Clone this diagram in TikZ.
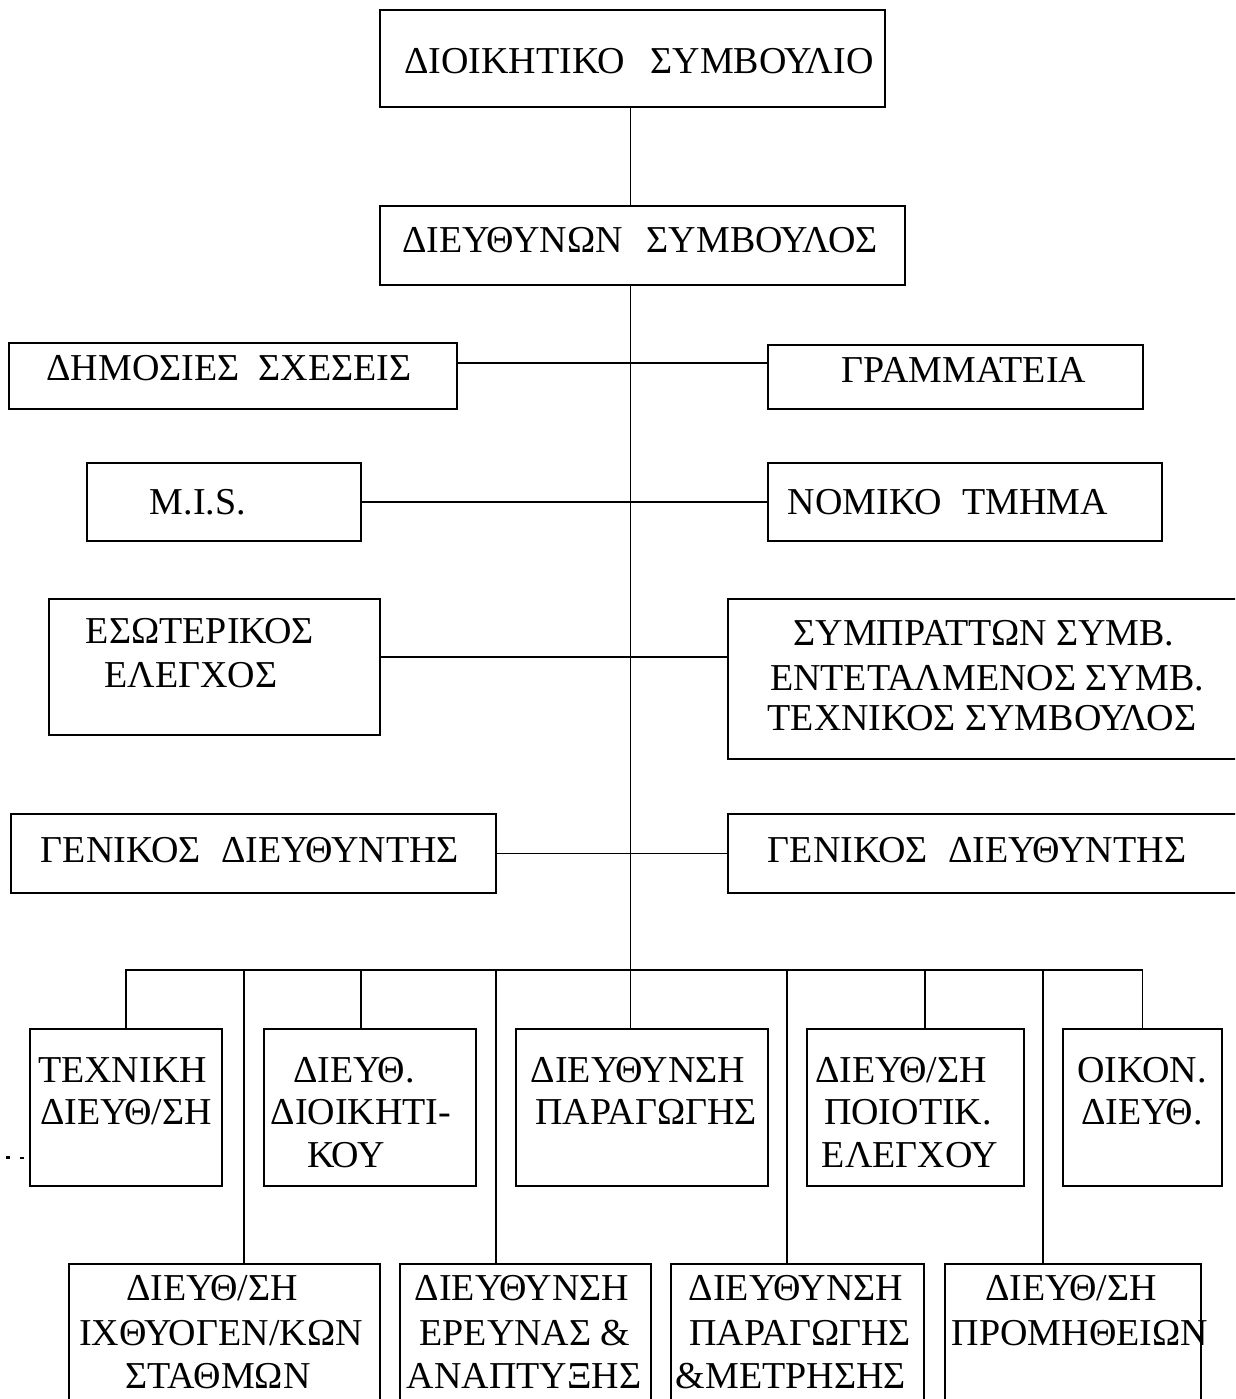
\documentclass[tikz,border=0pt]{standalone}
\usepackage{fontspec}
\setmainfont{Liberation Serif}
\begin{document}
\begin{tikzpicture}[x=1pt,y=-1pt,
  box/.style={draw,line width=2.4pt,inner sep=0pt,outer sep=0pt},
  lbl/.style={anchor=base,inner sep=0pt,font=\fontsize{38}{44}\selectfont},
  conn/.style={line width=1.9pt}]
\useasboundingbox (0,0) rectangle (1235,1399);
\clip (0,0) rectangle (1235,1399);
% boxes
\node[box,minimum width=505pt,minimum height=97pt] (tb) at (632.5,58.5) {};
\node[box,minimum width=525pt,minimum height=79pt] (d2) at (642.5,245.5) {};
\node[box,minimum width=448pt,minimum height=66pt] (ds) at (233,376) {};
\node[box,minimum width=375pt,minimum height=64pt] (gr) at (955.5,377) {};
\node[box,minimum width=274pt,minimum height=78pt] (mis) at (224,502) {};
\node[box,minimum width=394pt,minimum height=78pt] (nom) at (965,502) {};
\node[box,minimum width=331pt,minimum height=136pt] (es) at (214.5,667) {};
\node[box,minimum width=532pt,minimum height=160pt] (sy) at (994,679) {};
\node[box,minimum width=485pt,minimum height=79pt] (g1) at (253.5,853.5) {};
\node[box,minimum width=532pt,minimum height=79pt] (g2) at (994,853.5) {};
\node[box,minimum width=192pt,minimum height=157pt] (u1) at (126,1107.5) {};
\node[box,minimum width=212pt,minimum height=157pt] (u2) at (370,1107.5) {};
\node[box,minimum width=252pt,minimum height=157pt] (u3) at (642,1107.5) {};
\node[box,minimum width=217pt,minimum height=157pt] (u4) at (915.5,1107.5) {};
\node[box,minimum width=159pt,minimum height=157pt] (u5) at (1142.5,1107.5) {};
\node[box,minimum width=311pt,minimum height=156pt] (l1) at (224.5,1342) {};
\node[box,minimum width=251pt,minimum height=156pt] (l2) at (525.5,1342) {};
\node[box,minimum width=253pt,minimum height=156pt] (l3) at (797.5,1342) {};
\node[box,minimum width=256pt,minimum height=156pt] (l4) at (1073,1342) {};
% texts
\node[lbl] (t1) at (639,74) {ΔΙΟΙΚΗΤΙΚΟ\hspace{26pt}ΣΥΜΒΟΥΛΙΟ};
\node[lbl] (t2) at (640,252) {ΔΙΕΥΘΥΝΩΝ\hspace{24pt}ΣΥΜΒΟΥΛΟΣ};
\node[lbl] (t3) at (229,380) {ΔΗΜΟΣΙΕΣ\ \ ΣΧΕΣΕΙΣ};
\node[lbl] (t4) at (964,382) {ΓΡΑΜΜΑΤΕΙΑ};
\node[lbl] (t5) at (198,514) {M.I.S.};
\node[lbl] (t6) at (948,514) {ΝΟΜΙΚΟ\hspace{21pt}ΤΜΗΜΑ};
\node[lbl] (t7) at (200,643) {ΕΣΩΤΕΡΙΚΟΣ};
\node[lbl] (t8) at (191,687) {ΕΛΕΓΧΟΣ};
\node[lbl] (t9) at (984,645) {ΣΥΜΠΡΑΤΤΩΝ ΣΥΜΒ.};
\node[lbl] (t10) at (987,690) {ΕΝΤΕΤΑΛΜΕΝΟΣ ΣΥΜΒ.};
\node[lbl] (t11) at (982,730) {ΤΕΧΝΙΚΟΣ ΣΥΜΒΟΥΛΟΣ};
\node[lbl] (t12) at (250,862) {ΓΕΝΙΚΟΣ\hspace{21pt}ΔΙΕΥΘΥΝΤΗΣ};
\node[lbl] (t13) at (977,862) {ΓΕΝΙΚΟΣ\hspace{21pt}ΔΙΕΥΘΥΝΤΗΣ};
\node[lbl] (t14) at (122.5,1082) {ΤΕΧΝΙΚΗ};
\node[lbl] (t15) at (126,1124) {ΔΙΕΥΘ/ΣΗ};
\node[lbl] (t16) at (354,1082) {ΔΙΕΥΘ.};
\node[lbl] (t17) at (361,1124) {ΔΙΟΙΚΗΤΙ-};
\node[lbl] (t18) at (346,1167) {ΚΟΥ};
\node[lbl] (t19) at (638,1082) {ΔΙΕΥΘΥΝΣΗ};
\node[lbl] (t20) at (646,1124) {ΠΑΡΑΓΩΓΗΣ};
\node[lbl] (t21) at (901,1082) {ΔΙΕΥΘ/ΣΗ};
\node[lbl] (t22) at (908,1124) {ΠΟΙΟΤΙΚ.};
\node[lbl] (t23) at (910,1167) {ΕΛΕΓΧΟΥ};
\node[lbl] (t24) at (1142,1082) {ΟΙΚΟΝ.};
\node[lbl] (t25) at (1142,1124) {ΔΙΕΥΘ.};
\node[lbl] (t26) at (212,1300) {ΔΙΕΥΘ/ΣΗ};
\node[lbl] (t27) at (221,1345) {ΙΧΘΥΟΓΕΝ/ΚΩΝ};
\node[lbl] (t28) at (218,1388) {ΣΤΑΘΜΩΝ};
\node[lbl] (t29) at (522,1300) {ΔΙΕΥΘΥΝΣΗ};
\node[lbl] (t30) at (525,1345) {ΕΡΕΥΝΑΣ \&};
\node[lbl] (t31) at (524,1388) {ΑΝΑΠΤΥΞΗΣ};
\node[lbl] (t32) at (796,1300) {ΔΙΕΥΘΥΝΣΗ};
\node[lbl] (t33) at (800,1345) {ΠΑΡΑΓΩΓΗΣ};
\node[lbl] (t34) at (791,1388) {\&ΜΕΤΡΗΣΗΣ};
\node[lbl] (t35) at (1071,1300) {ΔΙΕΥΘ/ΣΗ};
\node[lbl] (t36) at (1080,1345) {ΠΡΟΜΗΘΕΙΩΝ};
% connectors
\coordinate (bus) at (0,970);
\draw[conn] ([xshift=-2pt]tb.south) -- ([xshift=-2pt]tb.south |- d2.north);
\draw[conn] ([xshift=-2pt]tb.south |- d2.south) -- ([xshift=-2pt]tb.south |- u3.north);
\draw[conn] ([yshift=13pt]ds.east) -- ([yshift=14pt]gr.west);
\draw[conn] (mis.east) -- (nom.west);
\draw[conn] ([yshift=10pt]es.east) -- ([yshift=22pt]sy.west);
\draw[conn] (g1.east) -- (g2.west);
\draw[conn] (u1.north) |- (u5.north |- bus) -- (u5.north);
\draw[conn] ([xshift=-9pt]u2.north) -- ([xshift=-9pt]u2.north |- bus);
\draw[conn] ([xshift=9.5pt]u4.north) -- ([xshift=9.5pt]u4.north |- bus);
\draw[conn] ([xshift=19.5pt]l1.north) -- ([xshift=19.5pt]l1.north |- bus);
\draw[conn] ([xshift=-29.5pt]l2.north) -- ([xshift=-29.5pt]l2.north |- bus);
\draw[conn] ([xshift=-10.5pt]l3.north) -- ([xshift=-10.5pt]l3.north |- bus);
\draw[conn] ([xshift=-30pt]l4.north) -- ([xshift=-30pt]l4.north |- bus);
% scan dots
\fill (6,1156) rectangle (10,1158.5);
\fill (20,1156.5) rectangle (24,1159);
\end{tikzpicture}
\end{document}
